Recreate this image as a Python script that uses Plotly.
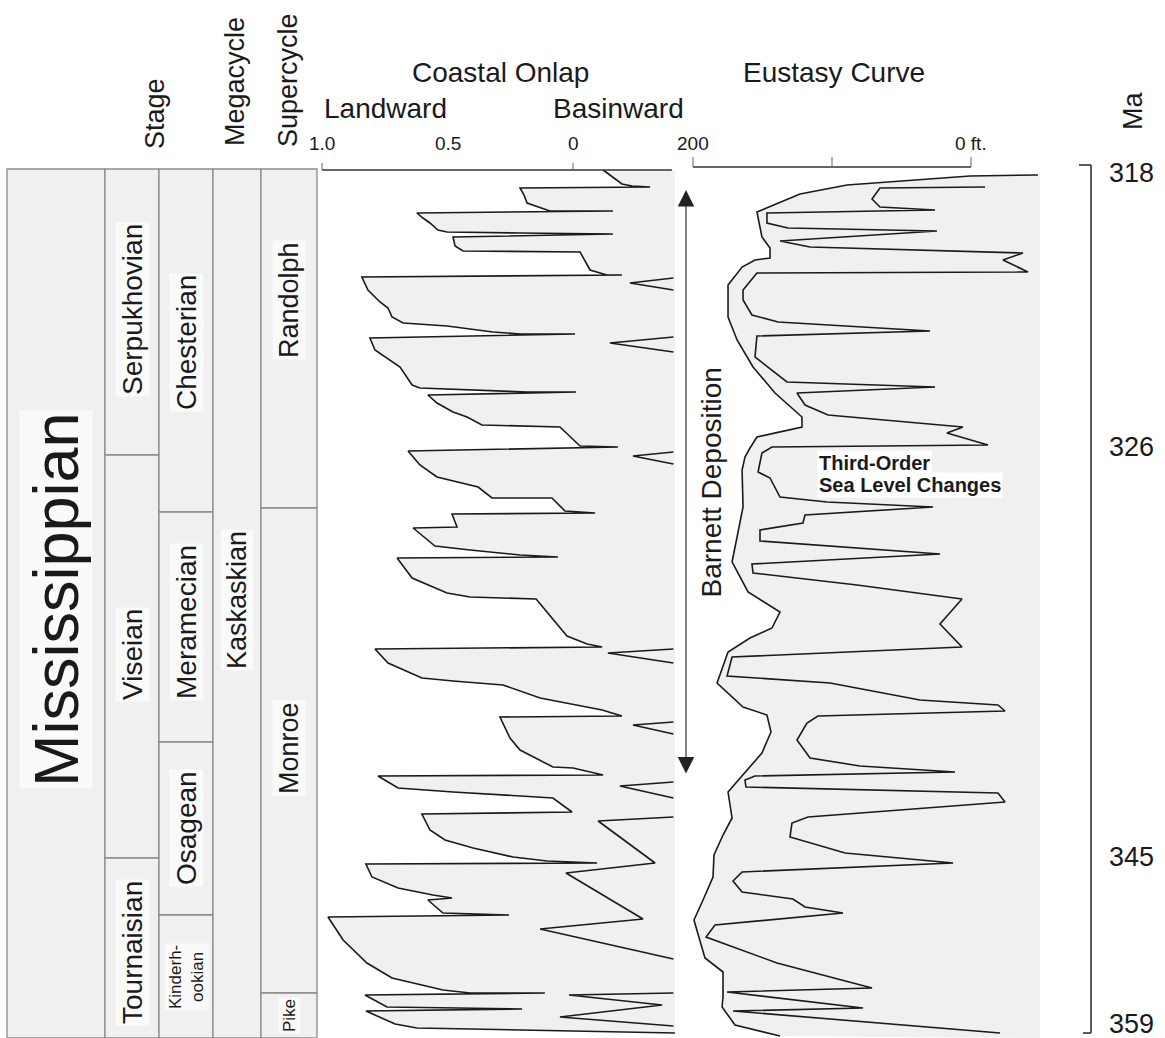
import plotly.graph_objects as go

W, H = 1165, 1038
FONT = "Liberation Sans, Arial, Helvetica, sans-serif"
INK = "#1a1a1a"
FILL = "#f0f0f0"

# ---------------------------------------------------------------- data
# Vertical coordinate = stratigraphic position down the section
# (0 = top of section, 318 Ma ; 868 = base of section, 359 Ma).
ma_labels = ["318", "326", "345", "359"]
ma_label_pos = [8, 282, 692, 859]
section_top, section_base = 0, 868

era_names = ["Mississippian"]
era_top = [4]
era_base = [873]
era_label_pos = [435]

stage_names = ["Serpukhovian", "Viseian", "Tournaisian"]
stage_top = [4, 290, 693]
stage_base = [290, 693, 873]
stage_label_pos = [145, 490, 788]

series_names = ["Chesterian", "Meramecian", "Osagean", "Kinderh-<br>ookian"]
series_top = [4, 347, 577, 750]
series_base = [347, 577, 750, 873]
series_label_pos = [178, 457, 663, 812]

mega_names = ["Kaskaskian"]
mega_top = [4]
mega_base = [873]
mega_label_pos = [435]

super_names = ["Randolph", "Monroe", "Pike"]
super_top = [4, 343, 828]
super_base = [343, 828, 873]
super_label_pos = [135, 583, 851]

# Coastal onlap curve (relative onlap, 1.0 = landward ... 0 ... basinward)
onlap_value = [
    -0.120, -0.159, -0.195, -0.235, -0.307, 0.211, 0.195, 0.183, 0.131, 0.092,
    -0.159, 0.622, 0.598, 0.570, 0.538, 0.502, 0.211, -0.159, 0.478, 0.470,
    0.438, -0.028, -0.068, -0.135, -0.195, 0.841, 0.817, 0.769, 0.737, 0.721,
    0.677, 0.502, 0.319, 0.211, -0.008, 0.809, 0.789, 0.689, 0.641, 0.610,
    0.183, -0.012, 0.578, 0.542, 0.478, 0.422, 0.363, 0.052, -0.028, -0.179,
    0.657, 0.610, 0.542, 0.438, 0.378, 0.323, 0.084, 0.032, -0.088, 0.482,
    0.462, 0.637, 0.550, 0.410, 0.211, 0.060, 0.701, 0.641, 0.502, 0.410,
    0.147, 0.024, -0.056, -0.116, 0.789, 0.737, 0.602, 0.478, 0.279, 0.131,
    -0.116, -0.195, 0.291, 0.251, 0.211, 0.080, 0.000, -0.120, 0.777, 0.697,
    0.478, 0.080, 0.004, 0.602, 0.570, 0.510, 0.398, 0.239, 0.104, -0.096,
    0.825, 0.801, 0.697, 0.558, 0.482, 0.578, 0.518, 0.255, 0.976, 0.916,
    0.821, 0.721, 0.518, 0.410, 0.112, 0.829, 0.741, 0.203, 0.825, 0.709,
    0.622, -0.406,
]
onlap_pos = [
    5, 12, 19, 21, 22, 23, 30, 38, 43, 46,
    46, 48, 53, 58, 65, 67, 68, 69, 72, 81,
    86, 87, 105, 110, 110, 112, 125, 137, 143, 152,
    158, 161, 167, 169, 169, 173, 185, 202, 220, 223,
    227, 227, 230, 238, 247, 252, 260, 262, 281, 282,
    286, 300, 312, 318, 322, 333, 333, 346, 348, 349,
    362, 363, 381, 385, 390, 392, 393, 413, 428, 432,
    434, 471, 479, 482, 484, 498, 513, 516, 520, 533,
    545, 551, 552, 573, 585, 602, 603, 610, 611, 623,
    627, 633, 647, 649, 665, 675, 683, 692, 696, 698,
    699, 712, 723, 730, 733, 735, 748, 750, 752, 775,
    798, 813, 825, 828, 828, 830, 842, 844, 846, 859,
    863, 868,
]

# small basinward notches drawn from the right edge of the onlap panel
notch_value = [
    [-0.40, -0.227, -0.40],
    [-0.40, -0.147, -0.40],
    [-0.40, -0.239, -0.40],
    [-0.40, -0.139, -0.40],
    [-0.40, -0.239, -0.40],
    [-0.40, -0.187, -0.40],
    [-0.40, -0.100, -0.327, 0.028, -0.279, 0.131, -0.40],
    [-0.40, 0.016, -0.355, 0.052, -0.40],
]
notch_pos = [
    [113, 118, 125],
    [172, 178, 187],
    [287, 291, 299],
    [484, 488, 498],
    [557, 560, 569],
    [617, 621, 633],
    [652, 656, 698, 708, 754, 764, 794],
    [828, 830, 840, 852, 861],
]

# Eustasy: long-term envelope (ft)
env_ft = [
    -48.2, 0.7, 89.2, 123.0, 154.0, 150.4, 144.6, 144.6, 155.4, 164.7,
    174.8, 174.8, 168.3, 156.8, 141.0, 121.6, 121.6, 154.0, 159.0, 162.6,
    164.7, 164.0, 171.9, 160.4, 137.4, 143.2, 159.0, 174.8, 182.7, 164.0,
    146.8, 143.9, 150.4, 162.6, 174.8, 171.9, 178.4, 184.9, 185.6, 192.8,
    199.3, 191.4, 178.4, 178.4, 179.1, 169.8, 137.4,
]
env_pos = [
    10, 11, 20, 29, 47, 72, 83, 93, 95, 102,
    120, 152, 175, 202, 228, 252, 262, 272, 283, 292,
    305, 342, 397, 427, 447, 463, 473, 487, 518, 542,
    550, 567, 588, 608, 627, 653, 670, 690, 712, 735,
    755, 793, 807, 832, 842, 860, 871,
]

# Eustasy: third-order sea-level changes (ft)
third_ft = [
    -10.1, 65.5, 71.2, 65.5, 25.9, 146.8, 146.8, 131.7, 24.5, 137.4,
    115.8, -37.4, -23.0, -41.0, 154.0, 164.0, 164.0, 157.6, 138.8, 29.5,
    154.0, 155.4, 132.4, 25.9, 125.2, 119.4, 102.9, 5.8, 17.3, -12.2,
    143.2, 150.4, 153.2, 144.6, 137.4, 103.6, 27.3, 119.4, 120.9, 151.8,
    151.8, 22.3, 157.6, 156.8, 82.0, 6.5, 22.3, 6.5, 171.9, 175.5,
    101.4, 36.7, -19.4, -24.5, 110.1, 118.0, 125.2, 115.8, 79.9, 11.5,
    155.4, 162.6, 161.9, -19.4, -24.5, 117.3, 128.8, 130.2, 90.6, 12.9,
    164.7, 171.2, 164.7, 128.1, 119.4, 92.1, 184.2, 190.6, 139.6, 71.2,
    175.5, 77.7, 171.2, -20.9,
]
third_pos = [
    22, 23, 34, 42, 45, 48, 58, 63, 66, 76,
    82, 88, 95, 107, 108, 125, 135, 150, 157, 166,
    171, 192, 217, 222, 228, 240, 250, 262, 268, 280,
    282, 288, 307, 313, 332, 337, 342, 350, 358, 365,
    376, 389, 399, 408, 420, 434, 459, 482, 492, 511,
    518, 535, 540, 546, 551, 558, 575, 593, 601, 607,
    611, 615, 622, 628, 637, 652, 658, 672, 688, 698,
    707, 716, 727, 734, 742, 748, 760, 772, 798, 823,
    827, 843, 846, 868,
]

onlap_ticks = [1.0, 0.0]
onlap_label_vals = [1.0, 0.5, 0.0]
onlap_label_text = ["1.0", "0.5", "0"]
eust_ticks = [200, 100, 0]
eust_label_vals = [200, 0]
eust_label_text = ["200", "0 ft."]

barnett_top_pos, barnett_base_pos = 25, 610

# ---------------------------------------------------------------- layout constants
ONLAP_ZERO_PX, ONLAP_PX_PER_UNIT = 573.0, 251.0
EUST_ZERO_PX, EUST_PX_PER_FT = 971.0, 1.39
POS_TOP_PX = 165.0
ONLAP_EDGE = -0.406
ONLAP_AXIS_END = -0.394
EUST_EDGE = -49.6
ONLAP_AXIS_POS = 5
EUST_AXIS_POS = 2


def px(xp):
    return xp / W


def py(yp):
    return 1 - yp / H


fig = go.Figure()

# coastal onlap panel
fig.add_trace(go.Scatter(
    x=onlap_value + [ONLAP_EDGE], y=onlap_pos + [onlap_pos[0]],
    mode="lines", fill="toself", fillcolor=FILL, line=dict(width=0),
    hoverinfo="skip", showlegend=False, xaxis="x", yaxis="y"))
fig.add_trace(go.Scatter(
    x=onlap_value, y=onlap_pos, mode="lines",
    line=dict(color=INK, width=1.6), hoverinfo="skip", showlegend=False,
    xaxis="x", yaxis="y"))
for nv, npos in zip(notch_value, notch_pos):
    fig.add_trace(go.Scatter(
        x=nv, y=npos, mode="lines", line=dict(color=INK, width=1.6),
        hoverinfo="skip", showlegend=False, xaxis="x", yaxis="y"))

# onlap axis line + ticks
fig.add_trace(go.Scatter(
    x=[onlap_ticks[0], ONLAP_AXIS_END], y=[ONLAP_AXIS_POS, ONLAP_AXIS_POS],
    mode="lines", line=dict(color="#333", width=1.5), hoverinfo="skip",
    showlegend=False, xaxis="x", yaxis="y"))
for t in onlap_ticks:
    fig.add_trace(go.Scatter(
        x=[t, t], y=[ONLAP_AXIS_POS, ONLAP_AXIS_POS - 7], mode="lines",
        line=dict(color="#666", width=1), hoverinfo="skip", showlegend=False,
        xaxis="x", yaxis="y"))

# eustasy panel
fig.add_trace(go.Scatter(
    x=env_ft + [EUST_EDGE, EUST_EDGE], y=env_pos + [section_base + 5, env_pos[0]],
    mode="lines", fill="toself", fillcolor=FILL, line=dict(width=0),
    hoverinfo="skip", showlegend=False, xaxis="x2", yaxis="y"))
fig.add_trace(go.Scatter(
    x=env_ft, y=env_pos, mode="lines", line=dict(color=INK, width=1.6),
    hoverinfo="skip", showlegend=False, xaxis="x2", yaxis="y"))
fig.add_trace(go.Scatter(
    x=third_ft, y=third_pos, mode="lines", line=dict(color=INK, width=1.6),
    hoverinfo="skip", showlegend=False, xaxis="x2", yaxis="y"))

fig.add_trace(go.Scatter(
    x=[eust_ticks[0], eust_ticks[-1]], y=[EUST_AXIS_POS, EUST_AXIS_POS],
    mode="lines", line=dict(color="#333", width=1.5), hoverinfo="skip",
    showlegend=False, xaxis="x2", yaxis="y"))
for t in eust_ticks:
    fig.add_trace(go.Scatter(
        x=[t, t], y=[EUST_AXIS_POS, EUST_AXIS_POS - 10], mode="lines",
        line=dict(color="#666", width=1), hoverinfo="skip", showlegend=False,
        xaxis="x2", yaxis="y"))

shapes = []
annotations = []


def label(text, x, y, xref="paper", yref="paper", size=27, angle=0, bg=None,
          xanchor="center"):
    d = dict(x=x, y=y, xref=xref, yref=yref, text=text, textangle=angle,
             showarrow=False, xanchor=xanchor, yanchor="middle",
             font=dict(family=FONT, size=size, color=INK))
    if bg:
        d.update(bgcolor=bg, borderpad=1)
    annotations.append(d)


# stratigraphic columns
columns = [
    (era_names, era_top, era_base, era_label_pos, (7, 105), 63),
    (stage_names, stage_top, stage_base, stage_label_pos, (105, 159), 28),
    (series_names, series_top, series_base, series_label_pos, (159, 213), 28),
    (mega_names, mega_top, mega_base, mega_label_pos, (213, 261), 27),
    (super_names, super_top, super_base, super_label_pos, (261, 317), 27),
]
for names, tops, bases, lpos, (x0, x1), fsize in columns:
    for name, t, b, lp in zip(names, tops, bases, lpos):
        shapes.append(dict(type="rect", xref="paper", yref="y",
                           x0=px(x0), x1=px(x1), y0=t, y1=b,
                           fillcolor=FILL, line=dict(color="#8c8c8c", width=1.3),
                           layer="below"))
        small = (b - t) < 130
        label(name, px((x0 + x1) / 2), lp, yref="y", size=17 if small else fsize,
              angle=-90, bg="#fafafa")

# header labels
for txt, x, y, ang in [("Stage", 155, 114, -90), ("Megacycle", 235, 82, -90),
                       ("Supercycle", 288, 80, -90), ("Ma", 1133, 111, -90),
                       ("Coastal Onlap", 500, 73, 0), ("Eustasy Curve", 834, 73, 0),
                       ("Landward", 385, 109, 0), ("Basinward", 618, 109, 0)]:
    label(txt, px(x), py(y), size=28 if ang == 0 else 27, angle=ang)

# tick labels
for v, t in zip(onlap_label_vals, onlap_label_text):
    label(t, v, -22, xref="x", yref="y", size=19)
for v, t in zip(eust_label_vals, eust_label_text):
    label(t, v, -22, xref="x2", yref="y", size=19)

# Ma scale bracket
shapes.append(dict(type="line", xref="paper", yref="y", x0=px(1091), x1=px(1091),
                   y0=section_top, y1=section_base, line=dict(color="#333", width=1.6)))
shapes.append(dict(type="line", xref="paper", yref="y", x0=px(1079), x1=px(1091),
                   y0=section_top, y1=section_top, line=dict(color="#333", width=1.6)))
shapes.append(dict(type="line", xref="paper", yref="y", x0=px(1083), x1=px(1091),
                   y0=section_base, y1=section_base, line=dict(color="#333", width=1.6)))
for lab, p in zip(ma_labels, ma_label_pos):
    label(lab, px(1131), p, yref="y", size=27)

# Barnett deposition arrow
barnett_x = (ONLAP_ZERO_PX - 686) / ONLAP_PX_PER_UNIT
annotations.append(dict(x=barnett_x, y=barnett_top_pos, ax=barnett_x, ay=barnett_base_pos,
                        xref="x", yref="y", axref="x", ayref="y", text="",
                        showarrow=True, arrowhead=2, startarrowhead=2,
                        arrowside="end+start", arrowsize=3, startarrowsize=3,
                        arrowwidth=1.1, arrowcolor="#222"))
label("Barnett Deposition", px(711), (barnett_top_pos + barnett_base_pos) / 2,
      yref="y", size=28, angle=-90, bg="#ffffff")

# third-order label
for txt, p in [("Third-Order", 298), ("Sea Level Changes", 320)]:
    label("<b>" + txt + "</b>", px(817), p, yref="y", size=20, bg="#ffffff",
          xanchor="left")

fig.update_layout(
    width=W, height=H, autosize=False,
    margin=dict(l=0, r=0, t=0, b=0, pad=0),
    paper_bgcolor="white", plot_bgcolor="white",
    showlegend=False,
    xaxis=dict(domain=[0, 1], range=[ONLAP_ZERO_PX / ONLAP_PX_PER_UNIT,
                                     (ONLAP_ZERO_PX - W) / ONLAP_PX_PER_UNIT],
               visible=False, fixedrange=True),
    xaxis2=dict(domain=[0, 1], overlaying="x",
                range=[EUST_ZERO_PX / EUST_PX_PER_FT, (EUST_ZERO_PX - W) / EUST_PX_PER_FT],
                visible=False, fixedrange=True),
    yaxis=dict(domain=[0, 1], range=[H - POS_TOP_PX, -POS_TOP_PX],
               visible=False, fixedrange=True),
    shapes=shapes,
    annotations=annotations,
)

fig.write_html("out.html",
               config={"displayModeBar": False, "staticPlot": True},
               post_script="document.body.style.margin='0px';"
                           "document.body.style.overflow='hidden';")
